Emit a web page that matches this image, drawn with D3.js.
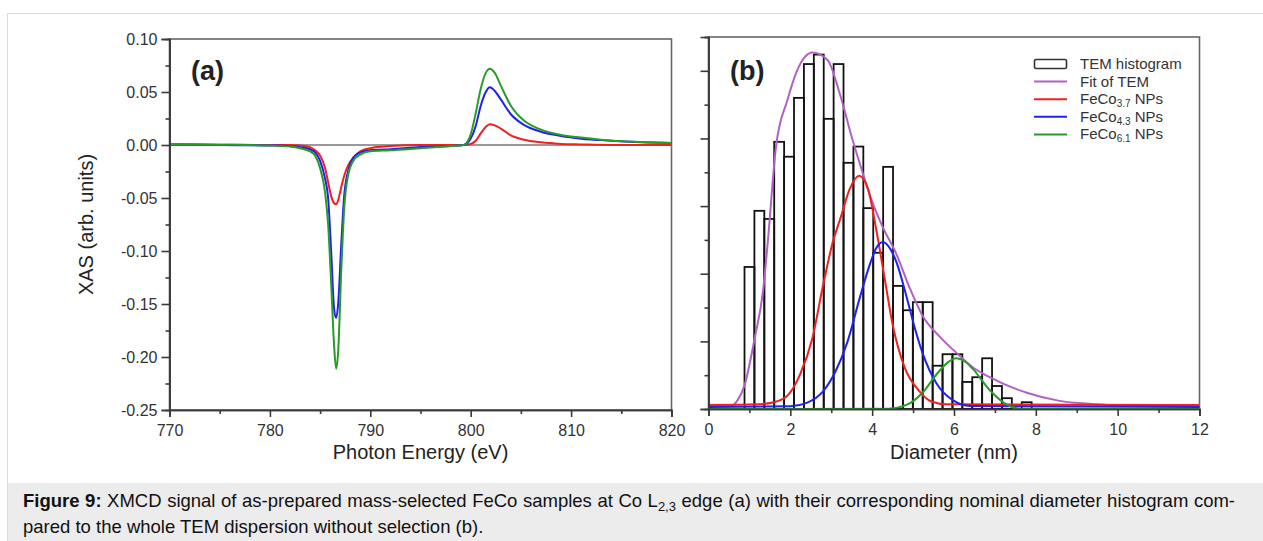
<!DOCTYPE html>
<html><head><meta charset="utf-8">
<script src="https://cdn.jsdelivr.net/npm/d3@7"></script>
<style>
html,body{margin:0;padding:0;background:#fff;}
svg text{font-family:"Liberation Sans",Arial,Helvetica,sans-serif;}
</style></head>
<body>
<svg id="fig" width="1263" height="541"></svg>
<script>
// ---------------- Panel (a) data: XMCD at Co L2,3 edge ----------------
const energy = [770, 775, 780, 782, 783, 784, 784.5, 785, 785.5, 785.8, 786.1, 786.4, 786.6, 786.8, 787.1, 787.4, 787.8, 788.3, 789, 790, 792, 795, 798, 799.3, 800, 800.5, 801, 801.5, 801.9, 802.4, 803, 804, 805.3, 807, 809, 811, 814, 817, 820];
const xasFeCo37 = [0.0005, 0.0003, 0, 0, -0.0005, -0.002, -0.005, -0.010, -0.022, -0.035, -0.048, -0.055, -0.056, -0.052, -0.040, -0.029, -0.019, -0.012, -0.006, -0.003, -0.001, 0, 0, 0, 0.001, 0.004, 0.011, 0.017, 0.0195, 0.0185, 0.0155, 0.009, 0.005, 0.0025, 0.001, 0.0005, 0, 0, 0];
const xasFeCo43 = [0.0005, 0, -0.0005, -0.001, -0.002, -0.004, -0.007, -0.015, -0.032, -0.05, -0.10, -0.155, -0.163, -0.150, -0.095, -0.048, -0.024, -0.012, -0.007, -0.005, -0.004, -0.002, -0.001, 0, 0.006, 0.018, 0.037, 0.050, 0.0545, 0.051, 0.043, 0.029, 0.019, 0.0125, 0.0085, 0.006, 0.004, 0.0025, 0.002];
const xasFeCo61 = [0.0008, 0.0003, -0.0005, -0.0015, -0.003, -0.006, -0.010, -0.022, -0.045, -0.075, -0.13, -0.19, -0.211, -0.195, -0.12, -0.06, -0.028, -0.015, -0.009, -0.006, -0.005, -0.003, -0.001, 0, 0.01, 0.03, 0.053, 0.068, 0.072, 0.068, 0.056, 0.037, 0.023, 0.0145, 0.0095, 0.007, 0.004, 0.0028, 0.002];
const xTicksA = [770, 780, 790, 800, 810, 820];
const xMinorA = [775, 785, 795, 805, 815];
const yTicksA = [-0.25, -0.20, -0.15, -0.10, -0.05, 0.00, 0.05, 0.10];
const yMinorA = [-0.225, -0.175, -0.125, -0.075, -0.025, 0.025, 0.075];

// ---------------- Panel (b) data: diameter histogram ----------------
const binLeft  = [0.88, 1.122, 1.364, 1.606, 1.848, 2.09, 2.332, 2.574, 2.816, 3.058, 3.30, 3.542, 3.784, 4.026, 4.268, 4.51, 4.752, 4.994, 5.236, 5.478, 5.72, 5.962, 6.204, 6.446, 6.688, 6.93, 7.172, 7.414, 7.656];
const binRight = [1.122, 1.364, 1.606, 1.848, 2.09, 2.332, 2.574, 2.816, 3.058, 3.30, 3.542, 3.784, 4.026, 4.268, 4.51, 4.752, 4.994, 5.236, 5.478, 5.72, 5.962, 6.204, 6.446, 6.688, 6.93, 7.172, 7.414, 7.656, 7.898];
const temCounts = [21.0, 29.3, 28.1, 39.5, 37.3, 46.0, 51.0, 52.4, 42.9, 51.0, 36.4, 38.8, 29.7, 23.1, 35.8, 18.2, 14.6, 15.8, 15.8, 6.4, 8.1, 8.1, 4.0, 4.7, 7.5, 3.4, 1.6, 0, 1.0];

const fitD = [0, 0.55, 0.7, 0.88, 1.13, 1.33, 1.44, 1.65, 1.93, 2.17, 2.54, 2.91, 3.2, 3.52, 3.77, 4.01, 4.25, 4.6, 4.91, 5.23, 5.65, 6.06, 6.45, 6.87, 7.78, 8.58, 9.39, 9.8, 12];
const fitV = [0.4, 0.4, 1.2, 3.5, 10.5, 17.3, 24.1, 38.8, 45.7, 50.1, 52.7, 51.6, 46.8, 39.8, 34.9, 30.5, 27.0, 22.8, 18.0, 13.8, 10.7, 8.3, 6.2, 4.7, 2.4, 1.2, 0.75, 0.6, 0.6];
const fe37D = [0, 1.2, 1.6, 1.9, 2.23, 2.54, 2.79, 3.03, 3.24, 3.45, 3.68, 3.9, 4.1, 4.3, 4.5, 4.79, 5.13, 5.45, 5.8, 12];
const fe37V = [0.6, 0.7, 1.0, 1.8, 5.0, 10.5, 18.0, 24.5, 28.5, 32.5, 34.5, 32.5, 26.5, 19.5, 12.5, 6.2, 2.8, 1.1, 0.7, 0.6];
const fe43D = [0, 2.0, 2.4, 2.8, 3.1, 3.4, 3.7, 3.95, 4.1, 4.26, 4.45, 4.6, 4.84, 5.05, 5.23, 5.57, 5.97, 6.4, 12];
const fe43V = [0.3, 0.4, 0.9, 2.6, 5.5, 10.0, 16.5, 21.5, 23.8, 24.7, 23.6, 21.6, 16.6, 11.8, 8.3, 3.8, 1.3, 0.45, 0.3];
const fe61D = [0, 4.4, 4.84, 5.23, 5.57, 5.85, 6.06, 6.25, 6.45, 6.87, 7.3, 7.6, 12];
const fe61V = [0, 0.05, 0.6, 2.4, 5.1, 6.9, 7.5, 7.1, 6.0, 2.8, 0.6, 0.05, 0];
const xTicksB = [0, 2, 4, 6, 8, 10, 12];
const xMinorB = [1, 3, 5, 7, 9, 11];
const yTicksB = [0, 10, 20, 30, 40, 50];
const yMinorB = [5, 15, 25, 35, 45, 55];

const legendLabels = ["TEM histogram", "Fit of TEM", "FeCo", "FeCo", "FeCo"];
const legendSubs = ["", "", "3.7", "4.3", "6.1"];
const seriesColors = {red: "#f02020", blue: "#2020f0", green: "#2a9a2a", purple: "#b062c2"};

// ---------------- Drawing ----------------
const svg = d3.select("#fig");

// outer figure box and caption area
svg.append("rect").attr("x", 7.5).attr("y", 13.5).attr("width", 1262).attr("height", 540)
  .attr("fill", "#fff").attr("stroke", "#dcdcdc").attr("stroke-width", 1);
svg.append("rect").attr("x", 8).attr("y", 483).attr("width", 1262).attr("height", 60).attr("fill", "#ececec");

const cap = svg.append("g").attr("font-size", 18.5).attr("fill", "#111");
const l1 = cap.append("text").attr("x", 23).attr("y", 507);
l1.append("tspan").attr("font-weight", "bold").text("Figure 9:");
l1.append("tspan").text(" XMCD signal of as-prepared mass-selected FeCo samples at Co L");
l1.append("tspan").attr("font-size", 13).attr("dy", 4).text("2,3");
l1.append("tspan").attr("dy", -4).text(" edge (a) with their corresponding nominal diameter histogram com-");
// justify first line of the caption like the paragraph it came from
{
  const natural = l1.node().getComputedTextLength();
  const spaces = (l1.text().match(/ /g) || []).length;
  const extra = (1235 - 23 - natural) / spaces;
  if (extra > 0) l1.attr("word-spacing", extra);
}
cap.append("text").attr("x", 23).attr("y", 533).text("pared to the whole TEM dispersion without selection (b).");

const axisColor = "#3a3a3a";
function styleAxis(g) {
  g.select(".domain").attr("stroke", axisColor).attr("stroke-width", 1.6);
  g.selectAll(".tick line").attr("stroke", axisColor).attr("stroke-width", 1.6);
  g.selectAll(".tick text").attr("fill", "#333").attr("font-size", 16)
    .attr("font-family", "'Liberation Sans',Arial,sans-serif");
}

// ===== Panel (a) =====
const xA = d3.scaleLinear().domain([770, 820]).range([169.5, 671.5]);
const yA = d3.scaleLinear().domain([-0.25, 0.10]).range([410, 39]);
const gA = svg.append("g");
gA.append("rect").attr("x", xA(770)).attr("y", yA(0.10)).attr("width", xA(820) - xA(770))
  .attr("height", yA(-0.25) - yA(0.10)).attr("fill", "none").attr("stroke", "#666").attr("stroke-width", 1.6);
gA.append("line").attr("x1", xA(770)).attr("x2", xA(820)).attr("y1", yA(0)).attr("y2", yA(0))
  .attr("stroke", "#777").attr("stroke-width", 1.6);

const lineA = vals => d3.line().x((d, i) => xA(energy[i])).y(d => yA(d)).curve(d3.curveMonotoneX)(vals);
[[xasFeCo37, seriesColors.red], [xasFeCo43, seriesColors.blue], [xasFeCo61, seriesColors.green]].forEach(([v, c]) => {
  gA.append("path").attr("d", lineA(v)).attr("fill", "none").attr("stroke", c).attr("stroke-width", 2)
    .attr("stroke-linejoin", "round");
});

const fmtA = d => d.toFixed(2);
gA.append("g").attr("transform", `translate(0,${yA(-0.25)})`)
  .call(d3.axisBottom(xA).tickValues(xMinorA).tickSize(4).tickFormat(""))
  .call(styleAxis);
gA.append("g").attr("transform", `translate(0,${yA(-0.25)})`)
  .call(d3.axisBottom(xA).tickValues(xTicksA).tickSize(7).tickPadding(8).tickFormat(d3.format("d")))
  .call(styleAxis);
gA.append("g").attr("transform", `translate(${xA(770)},0)`)
  .call(d3.axisLeft(yA).tickValues(yMinorA).tickSize(4).tickFormat(""))
  .call(styleAxis);
gA.append("g").attr("transform", `translate(${xA(770)},0)`)
  .call(d3.axisLeft(yA).tickValues(yTicksA).tickSize(8).tickPadding(4).tickFormat(fmtA))
  .call(styleAxis);

gA.append("text").attr("x", 191).attr("y", 80).attr("font-size", 27).attr("font-weight", "bold")
  .attr("fill", "#222").text("(a)");
gA.append("text").attr("transform", `translate(93,${(yA(0.10) + yA(-0.25)) / 2}) rotate(-90)`)
  .attr("text-anchor", "middle").attr("font-size", 20).attr("fill", "#222").text("XAS (arb. units)");
gA.append("text").attr("x", (xA(770) + xA(820)) / 2).attr("y", 459).attr("text-anchor", "middle")
  .attr("font-size", 20).attr("fill", "#222").text("Photon Energy (eV)");

// ===== Panel (b) =====
const xB = d3.scaleLinear().domain([0, 12]).range([708.5, 1199.5]);
const yB = d3.scaleLinear().domain([0, 55]).range([409, 37]);
const gB = svg.append("g");
gB.append("rect").attr("x", xB(0)).attr("y", yB(55)).attr("width", xB(12) - xB(0))
  .attr("height", yB(0) - yB(55)).attr("fill", "none").attr("stroke", "#666").attr("stroke-width", 1.6);

gB.append("g").selectAll("rect").data(temCounts).join("rect")
  .attr("x", (d, i) => xB(binLeft[i]))
  .attr("width", (d, i) => xB(binRight[i]) - xB(binLeft[i]))
  .attr("y", d => yB(d))
  .attr("height", d => yB(0) - yB(d))
  .attr("fill", "none").attr("stroke", "#111").attr("stroke-width", 1.8);

const lineB = (xs, vs) => d3.line().x((d, i) => xB(xs[i])).y(d => yB(d)).curve(d3.curveMonotoneX)(vs);
[[fitD, fitV, seriesColors.purple], [fe37D, fe37V, seriesColors.red], [fe43D, fe43V, seriesColors.blue], [fe61D, fe61V, seriesColors.green]]
  .forEach(([xs, vs, c]) => {
    gB.append("path").attr("d", lineB(xs, vs)).attr("fill", "none").attr("stroke", c).attr("stroke-width", 2);
  });

gB.append("g").attr("transform", `translate(0,${yB(0)})`)
  .call(d3.axisBottom(xB).tickValues(xMinorB).tickSize(4).tickFormat(""))
  .call(styleAxis);
gB.append("g").attr("transform", `translate(0,${yB(0)})`)
  .call(d3.axisBottom(xB).tickValues(xTicksB).tickSize(7).tickPadding(8).tickFormat(d3.format("d")))
  .call(styleAxis);
gB.append("g").attr("transform", `translate(${xB(0)},0)`)
  .call(d3.axisLeft(yB).tickValues(yMinorB).tickSize(4).tickFormat(""))
  .call(styleAxis);
gB.append("g").attr("transform", `translate(${xB(0)},0)`)
  .call(d3.axisLeft(yB).tickValues(yTicksB).tickSize(8).tickFormat(""))
  .call(styleAxis);

gB.append("text").attr("x", 730).attr("y", 80).attr("font-size", 27).attr("font-weight", "bold")
  .attr("fill", "#222").text("(b)");
gB.append("text").attr("x", (xB(0) + xB(12)) / 2).attr("y", 459).attr("text-anchor", "middle")
  .attr("font-size", 20).attr("fill", "#222").text("Diameter (nm)");

// legend
const leg = gB.append("g").attr("transform", "translate(1034,64)");
const legColors = [null, seriesColors.purple, seriesColors.red, seriesColors.blue, seriesColors.green];
legendLabels.forEach((lab, i) => {
  const y = i * 17.6;
  if (i === 0) {
    leg.append("rect").attr("x", 0.5).attr("y", y - 4.5).attr("width", 32).attr("height", 9).attr("rx", 1.5)
      .attr("fill", "#fff").attr("stroke", "#333").attr("stroke-width", 1.6);
  } else {
    leg.append("line").attr("x1", 0).attr("x2", 33).attr("y1", y).attr("y2", y)
      .attr("stroke", legColors[i]).attr("stroke-width", 2);
  }
  const t = leg.append("text").attr("x", 46).attr("y", y + 5).attr("font-size", 15).attr("fill", "#333");
  t.append("tspan").text(lab);
  if (legendSubs[i]) {
    t.append("tspan").attr("font-size", 10).attr("dy", 3).text(legendSubs[i]);
    t.append("tspan").attr("dy", -3).text(" NPs");
  }
});
</script>
</body></html>
